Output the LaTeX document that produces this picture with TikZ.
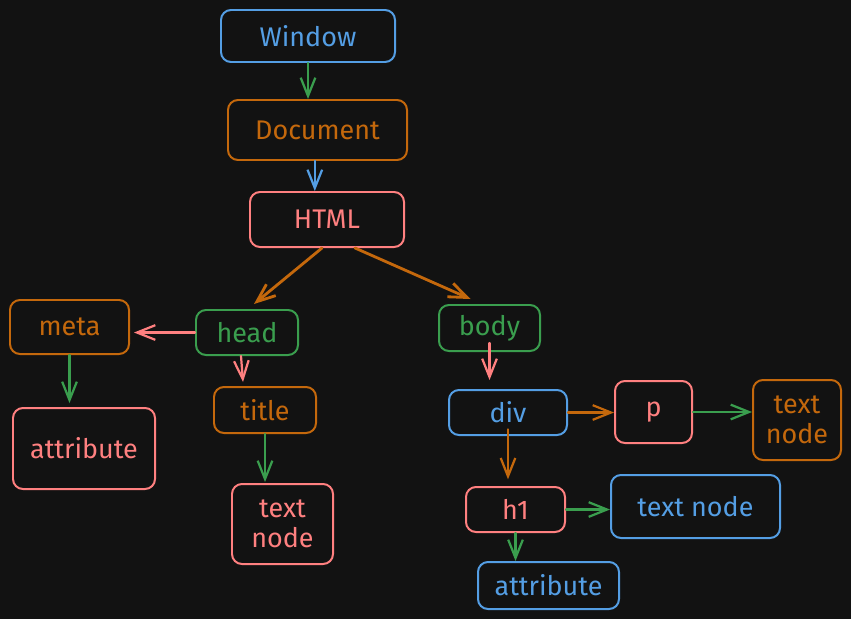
\documentclass[tikz,border=0pt]{standalone}
\usepackage{fontspec}
\setmainfont{Fira Sans}
\usetikzlibrary{arrows.meta,positioning}
\definecolor{dombg}{RGB}{18,18,18}
\definecolor{domblue}{RGB}{84,158,228}
\definecolor{domorange}{RGB}{196,104,12}
\definecolor{dompink}{RGB}{255,128,128}
\definecolor{domgreen}{RGB}{58,158,78}

\tikzset{
  dombox/.style={draw=#1, text=#1, rounded corners=0.3cm, line width=1.7pt,
    inner sep=0pt, align=center, font=\fontsize{23}{26}\selectfont},
  domlink/.style={draw=#1, line width=1.9pt, line cap=round, line join=round,
    -{Straight Barb[length=5.5mm,width=4.4mm]}},
}

\begin{document}
\begin{tikzpicture}[x=0.03cm, y=-0.03cm]
    % Fondo
    \fill[dombg] (0,0) rectangle (851,619);
    \useasboundingbox (0,0) rectangle (851,619);

    % Cadena principal
    \node[dombox=domblue, minimum width=5.22cm, minimum height=1.56cm] (window) at (308,36) {Window};
    \node[dombox=domorange, minimum width=5.37cm, minimum height=1.80cm] (document) at (317.5,130) {Document};
    \node[dombox=dompink, minimum width=4.62cm, minimum height=1.65cm] (html) at (327,219.5) {HTML};

    % Rama head
    \node[dombox=domgreen, minimum width=3.06cm, minimum height=1.35cm] (head) at (247,332.5) {head};
    \node[dombox=domorange, minimum width=3.57cm, minimum height=1.62cm] (meta) at (69.5,327) {meta};
    \node[dombox=dompink, minimum width=4.26cm, minimum height=2.43cm] (metaattr) at (84,448.5) {attribute};
    \node[dombox=domorange, minimum width=3.06cm, minimum height=1.38cm] (title) at (265,410) {title};
    \node[dombox=dompink, minimum width=3.03cm, minimum height=2.40cm] (titletext) at (282.5,524) {text\\node};

    % Rama body
    \node[dombox=domgreen, minimum width=3.03cm, minimum height=1.38cm] (body) at (489.5,328) {body};
    \node[dombox=domblue, minimum width=3.54cm, minimum height=1.35cm] (div) at (508,412.5) {div};
    \node[dombox=dompink, minimum width=2.31cm, minimum height=1.86cm] (para) at (653.5,412) {p};
    \node[dombox=domorange, minimum width=2.64cm, minimum height=2.40cm] (paratext) at (797,420) {text\\node};
    \node[dombox=dompink, minimum width=2.97cm, minimum height=1.35cm] (hone) at (515.5,509.5) {h1};
    \node[dombox=domblue, minimum width=5.07cm, minimum height=1.89cm] (honetext) at (695.5,506.5) {text node};
    \node[dombox=domblue, minimum width=4.23cm, minimum height=1.41cm] (honeattr) at (548.5,585.5) {attribute};

    % Flechas de la cadena
    \draw[domlink=domgreen] (window.south) -- (window.south |- document.north);
    \draw[domlink=domblue] ([xshift=-0.08cm]document.south) -- ([xshift=-0.08cm]document.south |- html.north);
    \draw[domlink=domorange, line width=2.4pt] ([xshift=-0.15cm]html.south) -- ([xshift=0.21cm, yshift=0.15cm]head.north);
    \draw[domlink=domorange, line width=2.4pt] ([xshift=0.84cm]html.south) -- ([xshift=-0.57cm, yshift=0.15cm]body.north);

    % Flechas de head
    \draw[domlink=dompink] (head.west) -- ([xshift=0.12cm]head.west -| meta.east);
    \draw[domlink=dompink] ([xshift=-0.18cm]head.south) -- ([xshift=-0.66cm, yshift=0.12cm]title.north);
    \draw[domlink=domgreen] (meta.south) -- ([yshift=0.12cm]meta.south |- metaattr.north);
    \draw[domlink=domgreen] (title.south) -- ([yshift=0.03cm]title.south |- titletext.north);

    % Flechas de body
    \draw[domlink=dompink] ([yshift=0.27cm]body.south) -- ([yshift=0.27cm]body.south |- div.north);
    \draw[domlink=domorange] (div.east) -- (div.east -| para.west);
    \draw[domlink=domgreen] (para.east) -- (para.east -| paratext.west);
    \draw[domlink=domorange] ([yshift=0.2cm]div.south) -- ([yshift=0.2cm]div.south |- hone.north);
    \draw[domlink=domgreen] (hone.east) -- (hone.east -| honetext.west);
    \draw[domlink=domgreen] (hone.south) -- (hone.south |- honeattr.north);
\end{tikzpicture}
\end{document}
